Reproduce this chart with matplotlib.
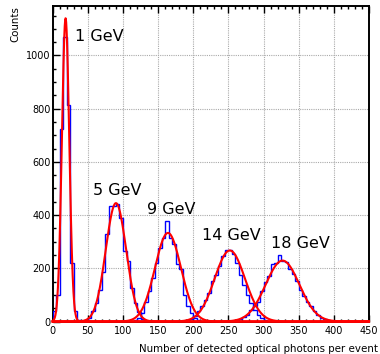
import matplotlib
matplotlib.use('Agg')
import matplotlib.pyplot as plt
import numpy as np
from matplotlib.ticker import MultipleLocator

plt.rcParams.update({
    "font.family": "DejaVu Sans",
    "xtick.direction": "in",
    "ytick.direction": "in",
    "xtick.labelsize": 7,
    "ytick.labelsize": 7,
    "axes.linewidth": 1.4,
})

# histogram bins are 5 photons wide; each series starts at its own lower edge
bin_width = 5
hist_start = [0, 40, 115, 190, 255]
counts_1gev = [40, 100, 725, 1068, 815, 220, 38, 5, 1]
counts_5gev = [2, 5, 14, 40, 70, 120, 185, 330, 434, 434, 441, 390, 264, 226, 126, 70, 35, 10, 3]
counts_9gev = [4, 12, 31, 75, 113, 163, 220, 277, 314, 377, 314, 290, 215, 196, 100, 57, 31, 12, 4]
counts_14gev = [4, 10, 19, 38, 57, 82, 107, 151, 176, 208, 245, 270, 267, 252, 220, 176,
                139, 101, 69, 45, 25, 12, 5, 2]
counts_18gev = [3, 6, 11, 18, 26, 45, 58, 75, 113, 150, 170, 215, 220, 249, 229, 222, 196,
                177, 151, 120, 94, 75, 57, 38, 26, 15, 8, 4, 2]
all_counts = [counts_1gev, counts_5gev, counts_9gev, counts_14gev, counts_18gev]

# gaussian fit parameters
fit_amp = [1140, 445, 333, 267, 229]
fit_mean = [18.3, 90, 164, 252, 327]
fit_sigma = [5.2, 14.5, 18.5, 21.5, 24]

labels = ['1 GeV', '5 GeV', '9 GeV', '14 GeV', '18 GeV']
label_x = [31.7, 57.7, 133.6, 211.8, 311.3]
label_y = [1070, 491, 422, 325, 294]

fig = plt.figure(figsize=(3.8, 3.54), dpi=100)
ax = fig.add_axes([0.1387, 0.0918, 0.971 - 0.1387, 0.983 - 0.0918])

for start, counts in zip(hist_start, all_counts):
    edges = start + bin_width * np.arange(len(counts) + 1)
    ax.stairs(counts, edges, color='#0000ff', lw=1.0, baseline=0, zorder=3)

x = np.linspace(0, 450, 2000)
for a, m, s in zip(fit_amp, fit_mean, fit_sigma):
    ax.plot(x, a * np.exp(-0.5 * ((x - m) / s) ** 2), color='#ff0000', lw=1.5,
            zorder=4, clip_on=False)

for t, tx, ty in zip(labels, label_x, label_y):
    ax.text(tx, ty, t, fontsize=11.5, ha='left', va='center', zorder=5)

ax.set_xlim(0, 450)
ax.set_ylim(0, 1186)
ax.xaxis.set_major_locator(MultipleLocator(50))
ax.xaxis.set_minor_locator(MultipleLocator(10))
ax.yaxis.set_major_locator(MultipleLocator(200))
ax.yaxis.set_minor_locator(MultipleLocator(50))
ax.tick_params(which='major', length=5, width=1.0, top=True, right=False, pad=3)
ax.tick_params(which='minor', length=2.5, width=1.0, top=True, right=False)
ax.tick_params(axis='y', pad=1.5)
ax.grid(True, which='major', color='#aaaaaa', ls=(0, (1, 1)), lw=0.8)
ax.set_axisbelow(True)

ax.set_xlabel('Number of detected optical photons per event', fontsize=7.4,
              ha='right', x=1.03, labelpad=6)
ax.set_ylabel('Counts', fontsize=7.4, ha='right', y=1.0, labelpad=4)

fig.savefig('out.png', dpi=100)
